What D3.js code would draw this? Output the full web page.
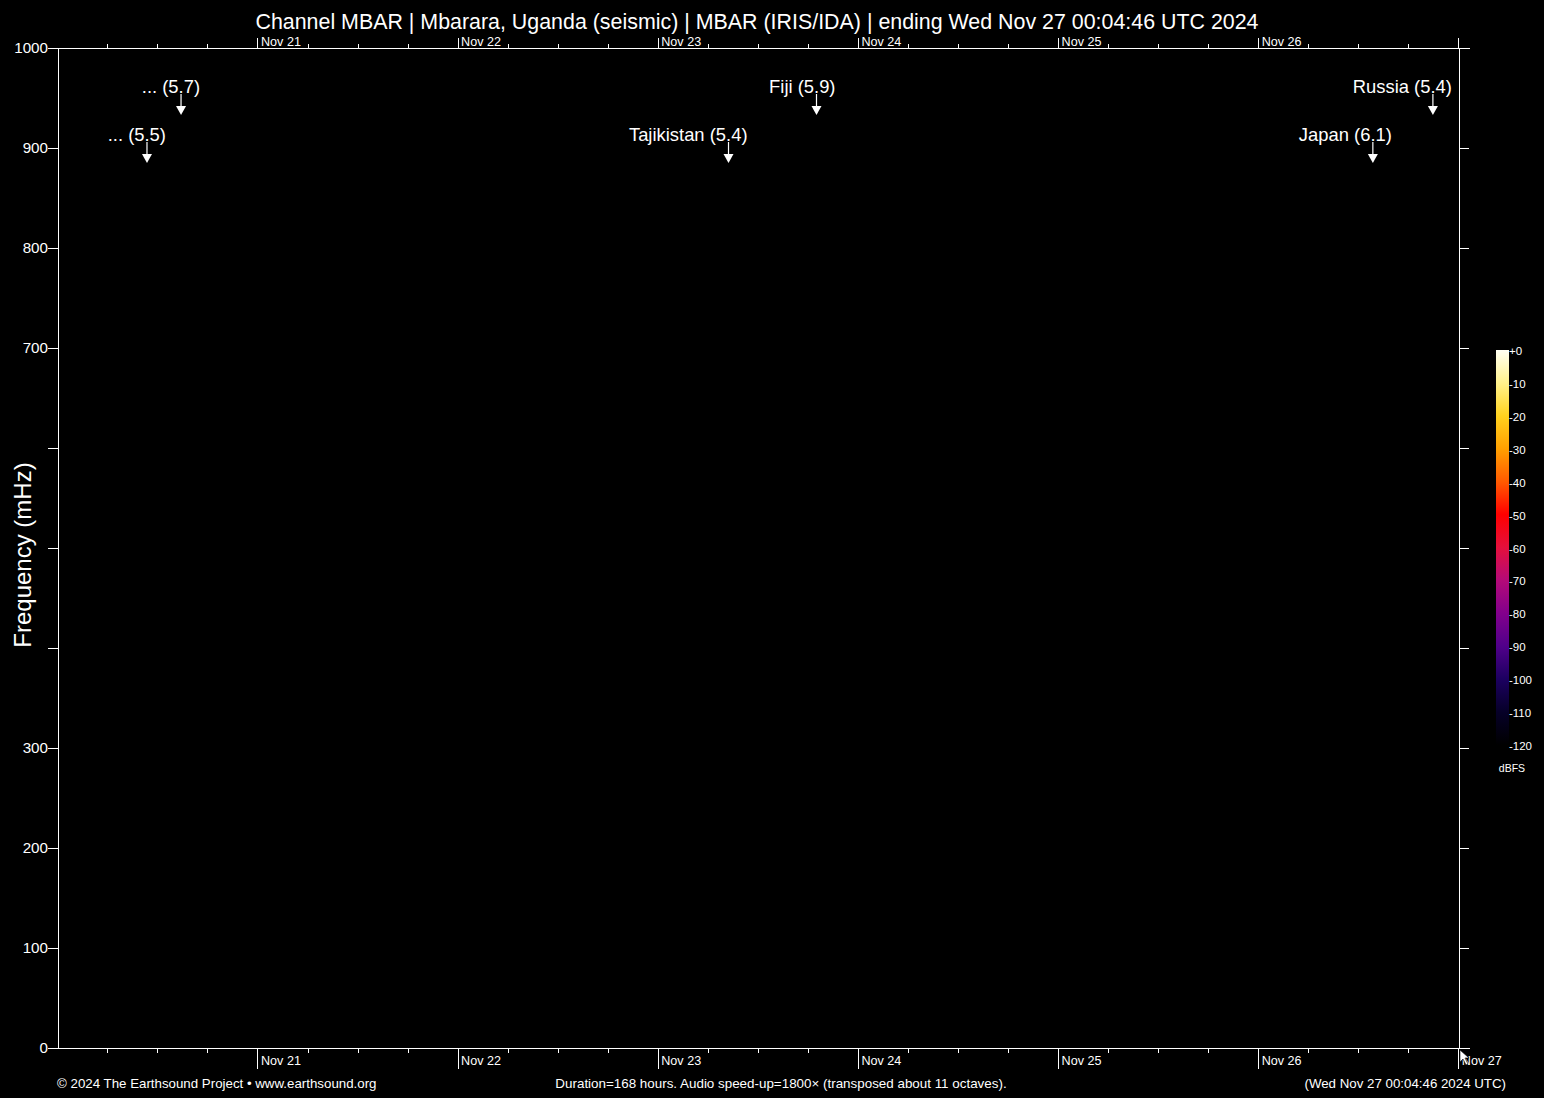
<!DOCTYPE html>
<html>
<head>
<meta charset="utf-8">
<script src="https://cdn.jsdelivr.net/npm/d3@7"></script>
<style>
  body { margin:0; background:#000; }
  svg { display:block; }
  text { font-family: Arial, "Liberation Sans", sans-serif; fill:#fff; }
</style>
</head>
<body>
<svg id="chart" width="1544" height="1098"></svg>
<script>
// time window (UTC)
var startTime = new Date(Date.UTC(2024,10,20,0,4,46));
var endTime = new Date(Date.UTC(2024,10,27,0,4,46));

// frequency axis (mHz)
var freqTicks = [0,100,200,300,400,500,600,700,800,900,1000];
var freqLabelled = [0,100,200,300,700,800,900,1000];

// events: name, magnitude, time, label row
var eventNames = ["...", "...", "Tajikistan", "Fiji", "Japan", "Russia"];
var eventMags = ["5.5", "5.7", "5.4", "5.9", "6.1", "5.4"];
var eventTimes = [
  Date.UTC(2024,10,20,10,45),
  Date.UTC(2024,10,20,14,50),
  Date.UTC(2024,10,23,8,29),
  Date.UTC(2024,10,23,19,2),
  Date.UTC(2024,10,26,13,45),
  Date.UTC(2024,10,26,20,57)
];
var eventRows = [1,0,1,0,1,0];

// colour bar (dBFS)
var dbStops = [0,-10,-20,-30,-40,-50,-60,-70,-80,-90,-100,-110,-120];
var dbColors = ["#fffff4","#fff28c","#ffd21e","#ffa000","#ff5a00","#ff0000","#e4103c","#b40a78","#82008c","#50008a","#1c0060","#060028","#000000"];

var W = 1544, H = 1098;
var pL = 58, pR = 1459, pT = 48, pB = 1048;

var svg = d3.select('#chart');
svg.append('rect').attr('width',W).attr('height',H).attr('fill','#000');

var x = d3.scaleUtc().domain([startTime,endTime]).range([pL,pR]);
var y = d3.scaleLinear().domain([0,1000]).range([pB,pT]);

// title
svg.append('text')
  .attr('x',757).attr('y',29)
  .attr('text-anchor','middle')
  .attr('font-size','21.4px')
  .text('Channel MBAR | Mbarara, Uganda (seismic) | MBAR (IRIS/IDA) | ending Wed Nov 27 00:04:46 UTC 2024');

function styleAxis(g){
  g.selectAll('path').remove();
  g.selectAll('line').attr('stroke','#fff').attr('stroke-width',1).attr('shape-rendering','crispEdges');
  g.selectAll('text').attr('fill','#fff').style('font-family','Arial, "Liberation Sans", sans-serif');
}

// frame lines
var frame = svg.append('g').attr('stroke','#fff').attr('shape-rendering','crispEdges');
frame.append('line').attr('x1',pL).attr('x2',pL).attr('y1',pT).attr('y2',pB);
frame.append('line').attr('x1',pR).attr('x2',pR).attr('y1',pT).attr('y2',pB);
frame.append('line').attr('x1',pL).attr('x2',pR+11).attr('y1',pT).attr('y2',pT);
frame.append('line').attr('x1',pL).attr('x2',pR+11).attr('y1',pB).attr('y2',pB);

// left axis
var yl = svg.append('g').attr('transform',`translate(${pL},0)`)
  .call(d3.axisLeft(y).tickValues(freqTicks).tickSize(10).tickPadding(0)
    .tickFormat(d => freqLabelled.indexOf(d) >= 0 ? d : ''));
styleAxis(yl);
yl.selectAll('text').attr('font-size','15.2px');

// right axis
var yr = svg.append('g').attr('transform',`translate(${pR},0)`)
  .call(d3.axisRight(y).tickValues(freqTicks).tickSize(10).tickFormat(''));
styleAxis(yr);

// y title
svg.append('text')
  .attr('transform','translate(31,555) rotate(-90)')
  .attr('text-anchor','middle')
  .attr('font-size','24px')
  .text('Frequency (mHz)');

// bottom axis: minor 6h ticks + daily ticks
var days = d3.utcDay.range(d3.utcDay.ceil(startTime), new Date(+endTime+1));
var sixHours = d3.utcHour.every(6).range(startTime, endTime).filter(d => d.getUTCHours() != 0);

var bMinor = svg.append('g').attr('transform',`translate(0,${pB})`)
  .call(d3.axisBottom(x).tickValues(sixHours).tickSize(5).tickFormat(''));
styleAxis(bMinor);
var bMajor = svg.append('g').attr('transform',`translate(0,${pB})`)
  .call(d3.axisBottom(x).tickValues(days).tickSize(21).tickFormat(d3.utcFormat('%b %d')));
styleAxis(bMajor);
bMajor.selectAll('text').attr('font-size','12.6px')
  .attr('text-anchor','start').attr('x',3).attr('y',17).attr('dy',0);

// top axis
var tMinor = svg.append('g').attr('transform',`translate(0,${pT})`)
  .call(d3.axisTop(x).tickValues(sixHours).tickSize(4).tickFormat(''));
styleAxis(tMinor);
var tMajor = svg.append('g').attr('transform',`translate(0,${pT})`)
  .call(d3.axisTop(x).tickValues(days).tickSize(10).tickFormat(d3.utcFormat('%b %d')));
styleAxis(tMajor);
tMajor.selectAll('text').attr('font-size','12.6px')
  .attr('text-anchor','start').attr('x',3).attr('y',-2).attr('dy',0);
tMajor.selectAll('.tick').filter(d => +d >= +endTime - 3600e3).select('text').text('');

// event markers
var rowText = [93, 141], rowLine = [94, 142];
var ev = svg.append('g').selectAll('g').data(eventNames).join('g')
  .attr('transform',(d,i) => `translate(${x(new Date(eventTimes[i]))},0)`);
ev.append('text')
  .attr('x',19).attr('y',(d,i) => rowText[eventRows[i]])
  .attr('text-anchor','end').attr('font-size','18.4px')
  .text((d,i) => `${d} (${eventMags[i]})`);
ev.append('line')
  .attr('x1',0).attr('x2',0)
  .attr('y1',(d,i) => rowLine[eventRows[i]])
  .attr('y2',(d,i) => rowLine[eventRows[i]] + 13)
  .attr('stroke','#fff').attr('stroke-width',1.2);
ev.append('path')
  .attr('d',(d,i) => { var b = rowLine[eventRows[i]] + 12; return `M-5,${b} L5,${b} L0,${b+9} Z`; })
  .attr('fill','#fff');

// colour bar
var cb = {x:1496, w:13, y0:350, y1:745};
var cy = d3.scaleLinear().domain([0,-120]).range([cb.y0,cb.y1]);
var grad = svg.append('defs').append('linearGradient')
  .attr('id','cbar').attr('x1',0).attr('x2',0).attr('y1',0).attr('y2',1);
grad.selectAll('stop').data(dbStops).join('stop')
  .attr('offset',d => (d/-120))
  .attr('stop-color',(d,i) => dbColors[i]);
svg.append('rect').attr('x',cb.x).attr('y',cb.y0).attr('width',cb.w).attr('height',cb.y1-cb.y0)
  .attr('fill','url(#cbar)');
svg.append('g').selectAll('text').data(dbStops).join('text')
  .attr('x',cb.x+cb.w).attr('y',d => cy(d)+5)
  .attr('font-size','11.5px')
  .text(d => d == 0 ? '+0' : d);
svg.append('text').attr('x',1512).attr('y',772).attr('text-anchor','middle')
  .attr('font-size','10.5px').text('dBFS');

// footer
svg.append('text').attr('x',57).attr('y',1088).attr('font-size','13.3px')
  .text('\u00a9 2024 The Earthsound Project \u2022 www.earthsound.org');
svg.append('text').attr('x',781).attr('y',1088).attr('text-anchor','middle').attr('font-size','13.4px')
  .text('Duration=168 hours. Audio speed-up=1800\u00d7 (transposed about 11 octaves).');
svg.append('text').attr('x',1506).attr('y',1088).attr('text-anchor','end').attr('font-size','13.3px')
  .text('(Wed Nov 27 00:04:46 2024 UTC)');

// mouse pointer left in the capture
svg.append('path')
  .attr('d','M1460,1050 L1460,1062 L1463,1059 L1466,1065 L1468,1064 L1465,1058 L1469,1058 Z')
  .attr('fill','#fff').attr('stroke','#000').attr('stroke-width',0.6);
</script>
</body>
</html>
